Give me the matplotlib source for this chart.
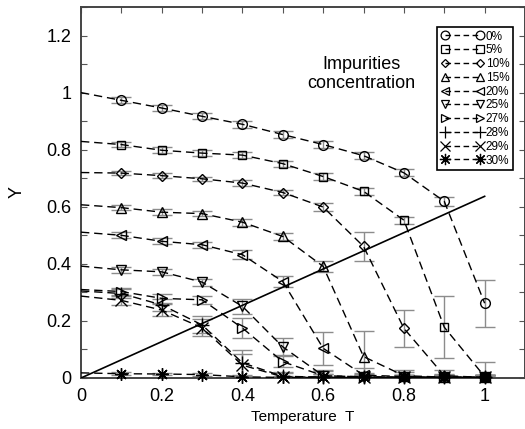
import matplotlib
matplotlib.use("Agg")
import matplotlib.pyplot as plt
from matplotlib.lines import Line2D
from matplotlib.ticker import MultipleLocator, FuncFormatter

plt.rcParams['font.family'] = ['Liberation Sans', 'DejaVu Sans']

T = [0.0, 0.1, 0.2, 0.3, 0.4, 0.5, 0.6, 0.7, 0.8, 0.9, 1.0]
labels = ["0%", "5%", "10%", "15%", "20%", "25%", "27%", "28%", "29%", "30%"]

y0  = [1.000, 0.973, 0.946, 0.917, 0.889, 0.853, 0.818, 0.779, 0.719, 0.619, 0.262]
y5  = [0.829, 0.818, 0.798, 0.788, 0.781, 0.751, 0.706, 0.654, 0.553, 0.178, 0.005]
y10 = [0.720, 0.718, 0.709, 0.698, 0.683, 0.650, 0.599, 0.461, 0.174, 0.008, 0.002]
y15 = [0.607, 0.597, 0.581, 0.576, 0.546, 0.496, 0.391, 0.075, 0.008, 0.003, 0.002]
y20 = [0.511, 0.500, 0.479, 0.467, 0.432, 0.338, 0.104, 0.010, 0.005, 0.002, 0.002]
y25 = [0.392, 0.379, 0.372, 0.336, 0.251, 0.109, 0.008, 0.004, 0.002, 0.002, 0.002]
y27 = [0.310, 0.303, 0.279, 0.274, 0.175, 0.057, 0.008, 0.004, 0.002, 0.002, 0.002]
y28 = [0.305, 0.296, 0.256, 0.186, 0.053, 0.006, 0.003, 0.002, 0.002, 0.002, 0.002]
y29 = [0.287, 0.272, 0.238, 0.176, 0.045, 0.004, 0.003, 0.002, 0.002, 0.002, 0.002]
y30 = [0.018, 0.015, 0.014, 0.012, 0.004, 0.002, 0.002, 0.002, 0.002, 0.002, 0.002]

e0  = [0, 0.010, 0.010, 0.010, 0.012, 0.012, 0.012, 0.012, 0.012, 0.015, 0.083]
e5  = [0, 0.008, 0.010, 0.010, 0.010, 0.010, 0.012, 0.012, 0.012, 0.108, 0.050]
e10 = [0, 0.008, 0.008, 0.008, 0.010, 0.010, 0.015, 0.050, 0.066, 0.020, 0.010]
e15 = [0, 0.010, 0.010, 0.010, 0.012, 0.012, 0.020, 0.090, 0.020, 0.010, 0.010]
e20 = [0, 0.010, 0.010, 0.010, 0.015, 0.020, 0.058, 0.025, 0.015, 0.010, 0.010]
e25 = [0, 0.010, 0.010, 0.012, 0.025, 0.030, 0.020, 0.015, 0.010, 0.010, 0.010]
e27 = [0, 0.012, 0.015, 0.015, 0.035, 0.020, 0.015, 0.010, 0.010, 0.010, 0.010]
e28 = [0, 0.015, 0.020, 0.030, 0.045, 0.015, 0.010, 0.010, 0.010, 0.010, 0.010]
e29 = [0, 0.015, 0.020, 0.030, 0.040, 0.015, 0.010, 0.010, 0.010, 0.010, 0.010]
e30 = [0, 0.005, 0.005, 0.005, 0.005, 0.005, 0.005, 0.005, 0.005, 0.005, 0.005]

line_x = [0.0, 1.0]
line_y = [0.0, 0.6366]

series = [y0, y5, y10, y15, y20, y25, y27, y28, y29, y30]
errors = [e0, e5, e10, e15, e20, e25, e27, e28, e29, e30]
markers = ['o', 's', 'D', '^', '<', 'v', '>', '+', 'x', (8, 2, 0)]
msizes = [7, 6, 5, 7, 7, 7, 7, 10, 8, 9]

fig = plt.figure(figsize=(5.25, 4.29), dpi=100)
ax = fig.add_axes([81/525, 1-378/429, 444/525, 371/429])

dash = (0, (6, 3.5))
handles = []
for ys, es, m, ms, lab in zip(series, errors, markers, msizes, labels):
    ax.errorbar(T[1:], ys[1:], yerr=es[1:], fmt='none', ecolor='#8c8c8c',
                elinewidth=1, capsize=7, capthick=1, zorder=2)
    ax.plot(T, ys, linestyle=dash, color='black', lw=1.0, zorder=3)
    ax.plot(T[1:], ys[1:], linestyle='none', marker=m, ms=ms, mfc='none',
            mec='black', mew=1.0, zorder=4, clip_on=False)
    handles.append(Line2D([], [], linestyle=(0, (4, 2.5)), color='black', lw=1.0,
                          marker=m, ms=ms*0.9, mfc='none', mec='black', mew=0.9,
                          label=lab))

ax.plot(line_x, line_y, color='black', lw=1.2, zorder=3)

ax.set_xlim(0, 1.1)
ax.set_ylim(0, 1.3)
ax.xaxis.set_minor_locator(MultipleLocator(0.1))
ax.yaxis.set_major_locator(MultipleLocator(0.2))
ax.yaxis.set_minor_locator(MultipleLocator(0.1))
fmt = FuncFormatter(lambda v, p: '%g' % round(v, 2))
ax.set_xticks([0, 0.2, 0.4, 0.6, 0.8, 1.0])
ax.xaxis.set_major_formatter(fmt)
ax.yaxis.set_major_formatter(fmt)
ax.tick_params(which='both', direction='in', top=True, right=True, length=4,
               width=0.8, color='#555555')
ax.tick_params(which='major', labelsize=13, pad=7)
for s in ax.spines.values():
    s.set_linewidth(1.4)
    s.set_color('#444444')

ax.set_xlabel('Temperature  T', fontsize=11)
ax.set_ylabel('Y', fontsize=13)
ax.xaxis.set_label_coords(0.5, -0.085)
ax.yaxis.set_label_coords(-0.125, 0.5)

ax.text(0.695, 1.065, 'Impurities\nconcentration', fontsize=13, ha='center',
        va='center', linespacing=1.15)

leg = ax.legend(handles=handles, loc='upper right', bbox_to_anchor=(0.973, 0.946),
                borderaxespad=0, fontsize=8.5, labelspacing=0.15, handlelength=3.6,
                handletextpad=0.2, borderpad=0.3, numpoints=2, fancybox=False,
                framealpha=1, edgecolor='black')
leg.get_frame().set_linewidth(1.2)

fig.savefig('out.png', dpi=100)
